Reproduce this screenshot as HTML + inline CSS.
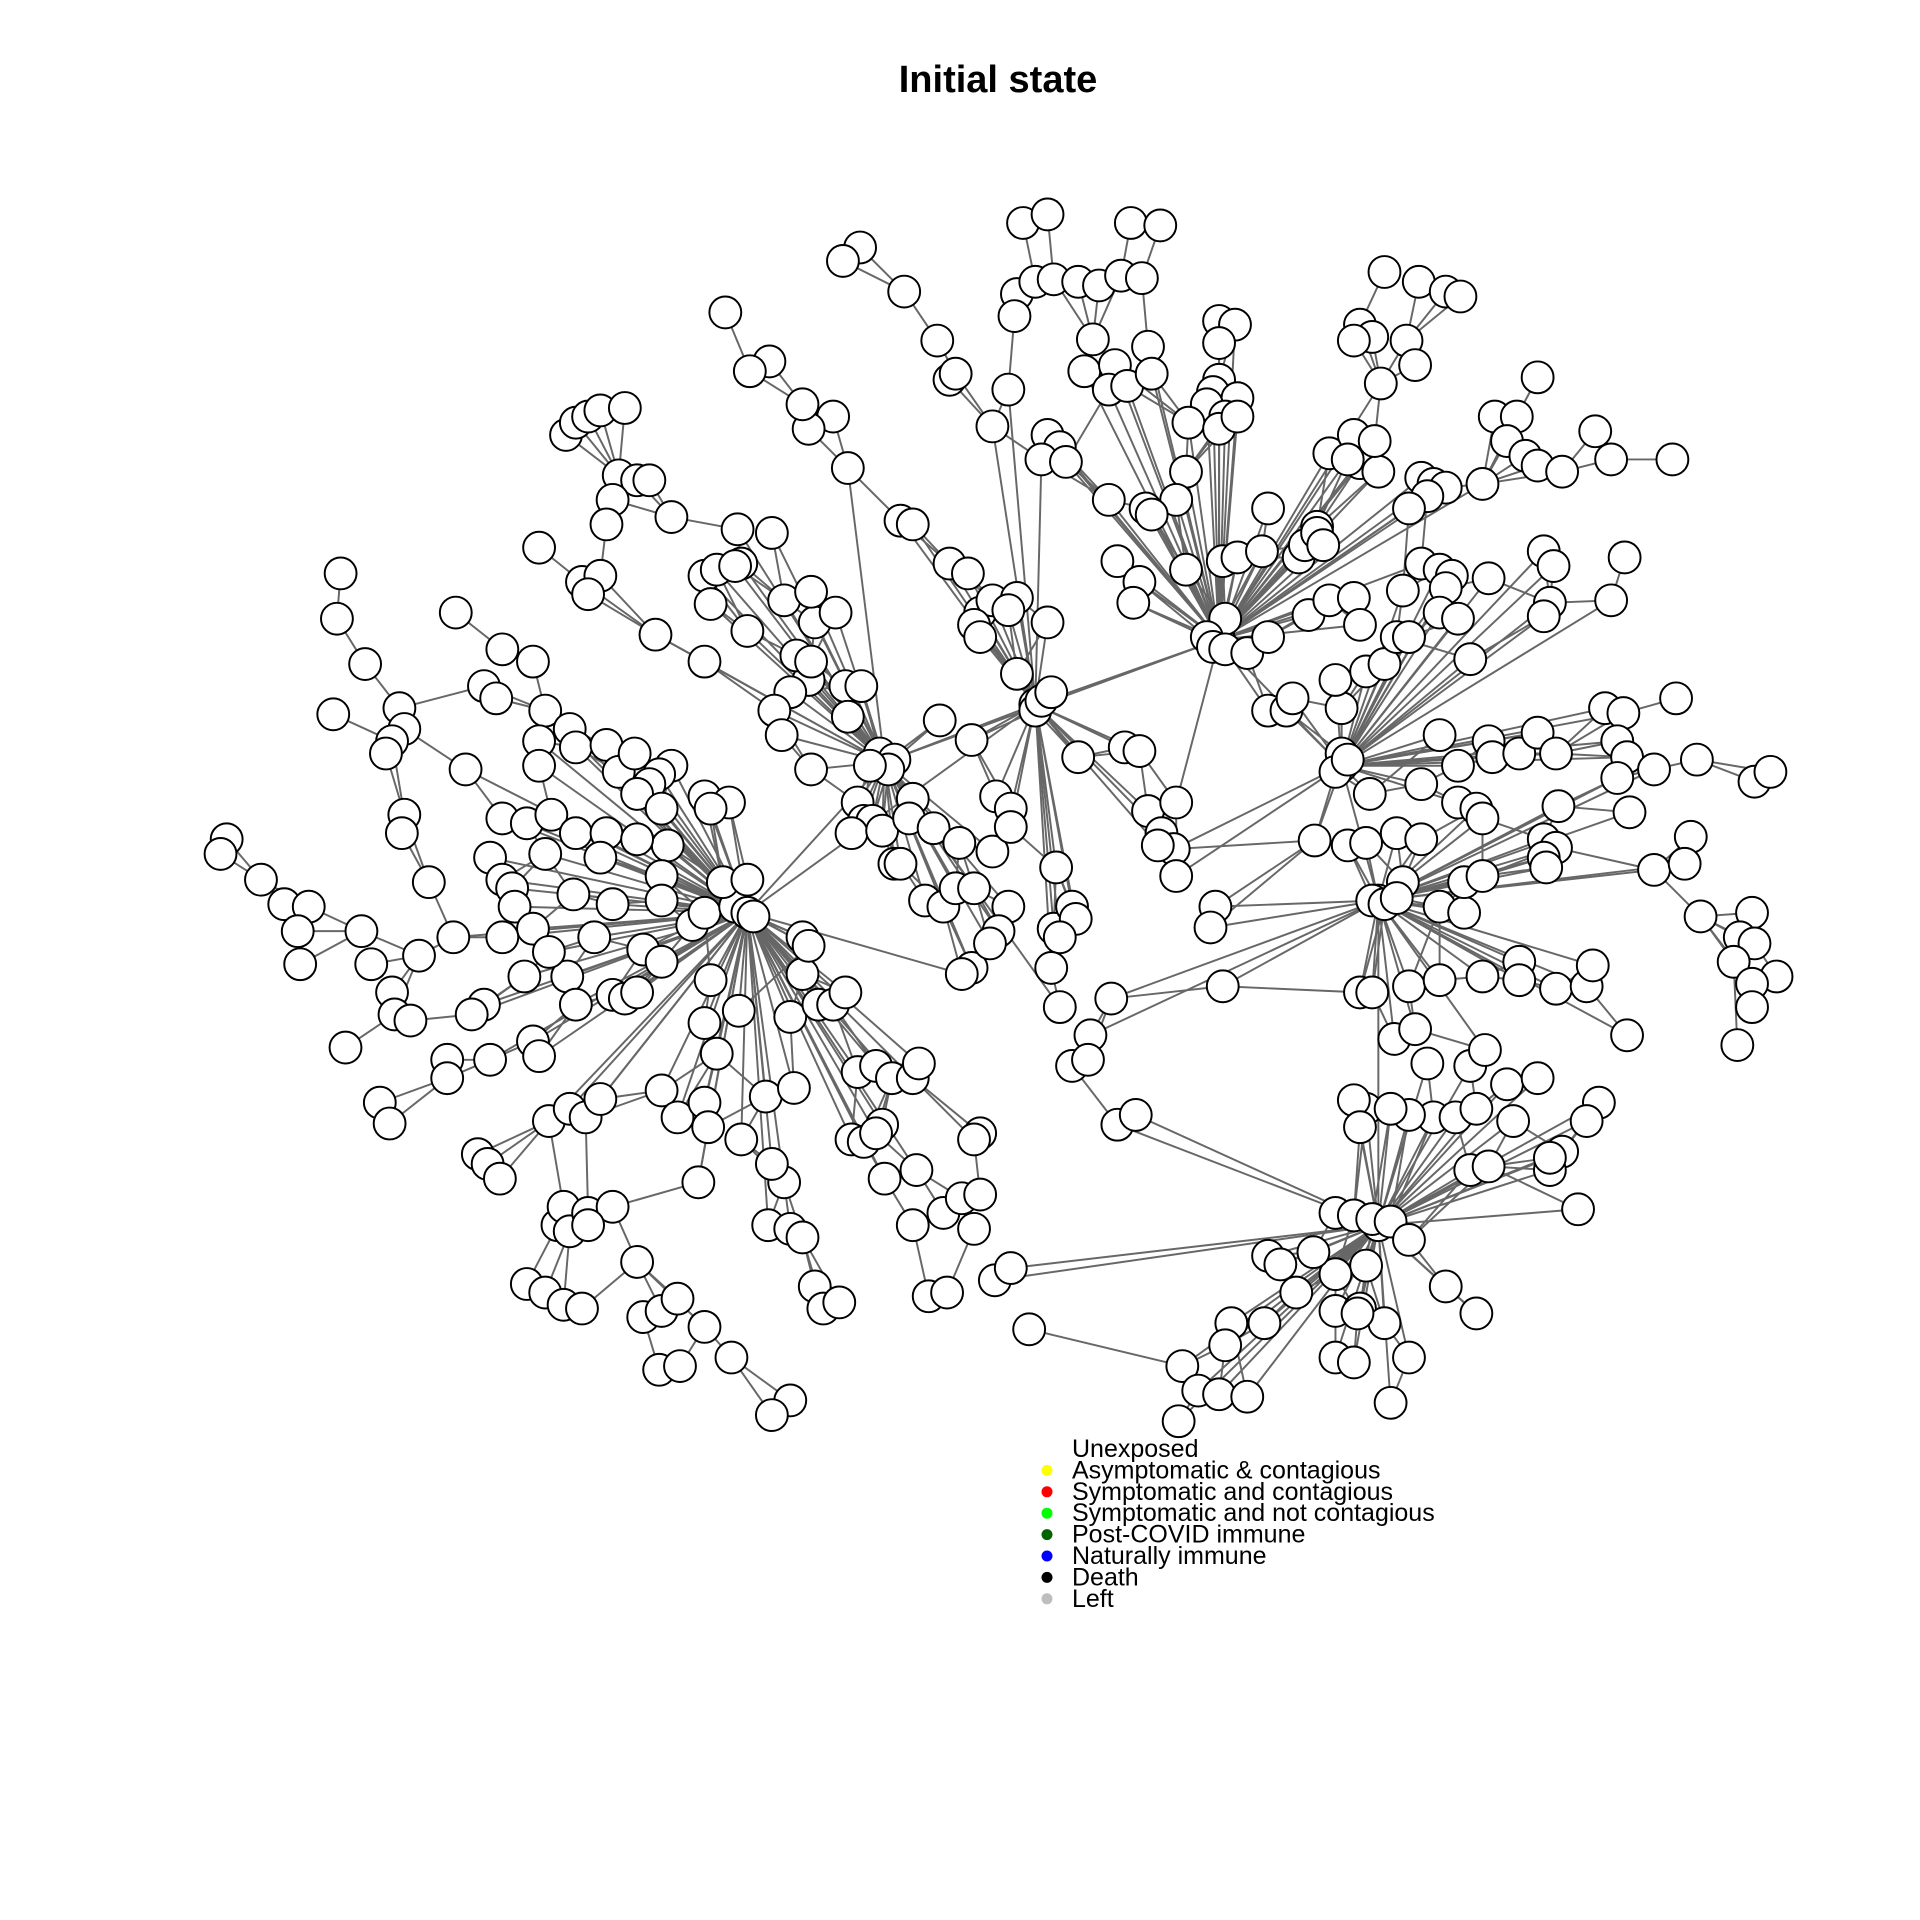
<!DOCTYPE html>
<html><head><meta charset="utf-8"><style>
html,body{margin:0;padding:0;background:#fff;}
svg{display:block;}
text{font-family:"Liberation Sans",sans-serif;}
</style></head><body>
<svg id="chart" width="1920" height="1920" viewBox="0 0 1920 1920" xmlns="http://www.w3.org/2000/svg">
<rect width="1920" height="1920" fill="#fff"/>
<text x="998" y="92" text-anchor="middle" font-size="38" font-weight="bold">Initial state</text>
<g id="net" transform="scale(1.2252)">
<g id="edges"></g>
<g id="nodes"></g>
</g>
<g id="legend"></g>
</svg>
<script>
const hubs=[[995,522],[845,575],[722,622],[610,745],[1095,625],[1125,735],[1125,1000]];
const hubLinks=[[0,1],[1,2],[2,3],[0,4],[4,5],[5,6],[2,0],[3,1]];
const nodeList=`835,182 855,175 923,182 947,184 830,240 845,230 860,228 880,230 897,233 915,225 932,227 828,258 892,277 937,283 885,303 910,298 905,318 920,315 940,305 995,262 1008,265 995,280 995,310 990,320 1010,325 985,330 1000,340 970,345 995,350 1010,340 968,385 960,408 935,415 940,420 905,408 855,355 865,365 850,375 870,377 810,348 823,318 775,310 780,305 765,278 738,238 702,202 688,213 912,458 930,475 925,492 968,465 998,458 1010,455 1035,415 1030,450 1060,455 1075,430 1065,445 1000,505 985,520 990,528 1000,530 1018,533 1035,520 1035,580 1050,580 1055,570 1095,578 1090,555 1115,548 1130,542 1068,502 1085,490 1105,488 1110,510 1140,520 1150,520
1130,222 1158,230 1180,238 1192,242 1110,265 1120,275 1105,278 1148,278 1155,298 1127,313 1085,370 1105,355 1110,378 1100,375 1125,385 1122,360 1075,435 1080,445 1255,308 1220,340 1238,340 1230,360 1245,372 1255,380 1275,385 1302,352 1315,375 1365,375 1160,390 1170,395 1180,398 1165,405 1210,395 1150,415 1160,460 1175,465 1185,470 1215,472 1180,480 1145,482 1260,450 1268,462 1326,455 1315,490 1265,492 1260,503 1175,500 1190,505 1150,520 1200,538
1175,600 1095,615 1090,630 1100,620 1160,640 1190,625 1215,605 1218,618 1240,615 1255,598 1270,615 1310,578 1325,582 1368,570 1320,605 1328,618 1320,635 1350,628 1385,620 1432,638 1445,630 1190,655 1205,660 1210,668 1272,658 1330,663 1118,648 1260,685 1270,692 1260,700 1262,708 1380,683 1350,710 1375,705 1388,748 1430,745 1420,765 1432,770 1415,785 1450,797 1430,803 1430,822 1418,853 1073,686
1100,690 1115,688 1140,680 1160,685 1145,720 1120,735 1130,738 1140,733 1175,740 1195,745 1195,720 1210,715 1110,810 1120,810 1150,805 1175,800 1210,797 1240,785 1240,800 1270,807 1295,805 1300,788 1328,845 1138,848 1155,840 1165,868 1200,870 1212,857 1230,885 1255,880 1170,912 1188,912 1205,905 1235,915 1150,910 1115,905 1105,898 1110,920 1135,905 1305,900 1295,915 1275,940 1265,955 1265,945 1288,987 1200,955 1215,952
1090,990 1105,992 1120,995 1135,997 1150,1012 1115,1033 1180,1050 1205,1072 1090,1040 1035,1025 1045,1032 1072,1022 1058,1055 1090,1070 1110,1068 1130,1080 1108,1072 1032,1080 1005,1080 1000,1098 965,1115 978,1135 995,1138 1018,1140 962,1160 1090,1108 1105,1112 1150,1108 1135,1145
830,550 845,580 850,572 858,565 800,500 810,490 830,488 823,498 795,510 800,520 855,508 775,460 790,468 735,425 745,428 692,382 680,340 660,350 655,330 628,295 612,303 592,255 880,618 918,610 930,613 937,662 960,655 948,680 958,693 945,690 960,715 992,740 988,757 998,805 767,588 793,604
718,615 730,620 725,628 710,625 700,655 705,670 712,670 695,680 720,678 745,652 742,668 730,705 762,676 783,688 810,695 813,650 825,660 825,675 862,708 690,560 703,560 692,585 660,555 645,565 632,580 638,600 662,628 650,535 662,540 665,508 640,490 662,483 682,500 610,515 575,540 605,460 630,435 602,432 575,470 585,465 600,462 580,493 548,422 535,518 462,355 470,345 480,340 490,335 510,333 505,388 520,392 530,392 500,408 495,428 440,447 475,475 490,470 480,485
278,468 275,505 298,542 272,583 326,578 330,595 320,605 315,615 372,500 410,530 395,560 405,570 435,540 445,580 440,605 465,595 470,610 440,625 495,608 505,630 518,615 548,625 538,632 530,640 520,648 540,660 575,650 595,655 580,660 545,690 410,668 430,672 450,665 470,680 495,680 490,700 520,685 330,665 328,680 380,628 400,700 410,718 418,725 445,697 350,720 185,685 180,697 213,718 232,738 252,740 243,760 245,787 295,760 303,787 342,780 370,765 320,810 322,828 335,833 282,855 310,900 318,917 365,865 365,880 395,820 385,828 400,865 428,797 435,850 440,862 463,797 470,820 500,812 510,815 520,810 485,765 500,738 525,775 540,785 565,755 575,745 600,740 610,745 615,748 590,720 610,718 540,715 540,735 468,730 420,740 435,758 448,777 410,765
580,800 603,825 575,835 585,860 540,890 553,912 575,900 578,920 570,965 605,930 625,895 648,888 655,795 645,830 668,820 680,820 690,810 655,765 660,772 700,875 715,870 728,880 745,880 750,868 720,918 695,930 705,932 715,925 748,955 722,962 640,965 630,950 627,1000 645,1003 655,1010 665,1050 672,1068 685,1063 745,1000 770,990 785,978 800,975 795,1003 812,1045 825,1035 840,1085 758,1058 773,1055 800,925 795,930 448,915 465,905 478,912 490,897 390,942 398,950 408,962 455,1000 460,985 465,1005 480,990 500,985 480,1000 430,1048 445,1055 460,1065 475,1068 520,1030 525,1075 540,1070 553,1060 575,1083 597,1108 538,1118 555,1115 645,1143 630,1155
860,758 875,740 878,750 865,765 858,790 823,740 815,760 793,790 785,795 808,770 755,735 770,740 780,725 795,725 865,822 890,845 907,815 875,870 888,865 912,918 927,910 735,705`;
const nodeX=[], nodeY=[];
nodeList.trim().split(/\s+/).forEach(p=>{const [a,b]=p.split(',').map(Number);nodeX.push(a);nodeY.push(b);});
const legendLabels=["Unexposed","Asymptomatic & contagious","Symptomatic and contagious","Symptomatic and not contagious","Post-COVID immune","Naturally immune","Death","Left"];
const legendColors=["#ffffff","#ffff00","#ff0000","#00ff00","#006400","#0000ff","#000000","#bebebe"];

const NS="http://www.w3.org/2000/svg";
const eG=document.getElementById('edges'), nG=document.getElementById('nodes');
const d=(ax,ay,bx,by)=>Math.hypot(ax-bx,ay-by);
function line(x1,y1,x2,y2){
  const l=document.createElementNS(NS,'line');
  l.setAttribute('x1',x1);l.setAttribute('y1',y1);l.setAttribute('x2',x2);l.setAttribute('y2',y2);
  l.setAttribute('stroke','#676767');l.setAttribute('stroke-width','1.6');
  
  
  eG.appendChild(l);
}
function circ(x,y){
  const c=document.createElementNS(NS,'circle');
  c.setAttribute('cx',x);c.setAttribute('cy',y);c.setAttribute('r',13);
  c.setAttribute('fill','#fff');c.setAttribute('stroke','#000');c.setAttribute('stroke-width','1.6');
  
  
  nG.appendChild(c);
}
hubLinks.forEach(([a,b])=>line(hubs[a][0],hubs[a][1],hubs[b][0],hubs[b][1]));
const N=nodeX.length;
for(let i=0;i<N;i++){
  let hb=0,hd=1e9;
  hubs.forEach((h,k)=>{const dd=d(nodeX[i],nodeY[i],h[0],h[1]);if(dd<hd){hd=dd;hb=k;}});
  const H=hubs[hb];
  let best=-1,bd=1e9;
  for(let j=0;j<N;j++){ if(j===i)continue;
    const dj=d(nodeX[j],nodeY[j],H[0],H[1]);
    if(dj<hd-20){const dd=d(nodeX[i],nodeY[i],nodeX[j],nodeY[j]);if(dd<bd&&dd<140){bd=dd;best=j;}}
  }
  if(best>=0) line(nodeX[i],nodeY[i],nodeX[best],nodeY[best]);
  if(best<0||hd<260) line(nodeX[i],nodeY[i],H[0],H[1]);
}
hubs.forEach(h=>circ(h[0],h[1]));
for(let i=0;i<N;i++) circ(nodeX[i],nodeY[i]);

const lg=document.getElementById('legend');
legendLabels.forEach((lab,i)=>{
  const y=1449+i*21.4;
  const c=document.createElementNS(NS,'circle');
  c.setAttribute('cx',1047);c.setAttribute('cy',y);c.setAttribute('r',5.5);c.setAttribute('fill',legendColors[i]);
  
  
  lg.appendChild(c);
  const t=document.createElementNS(NS,'text');
  t.setAttribute('x',1072);t.setAttribute('y',y+8);t.setAttribute('font-size','25');
  t.textContent=lab;
  
  
  lg.appendChild(t);
});
</script>
</body></html>
